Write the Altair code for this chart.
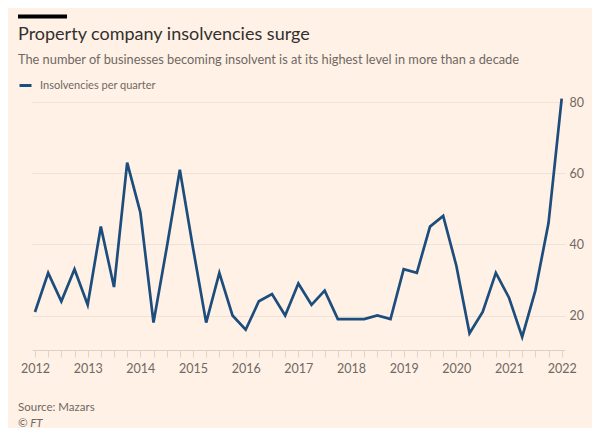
import altair as alt
import pandas as pd

# Quarterly data, 2012 Q1 .. 2022 Q1
years = [y for y in range(2012, 2023)]
quarters = [y + q / 4 for y in range(2012, 2022) for q in range(4)] + [2022.0]
insolvencies = [21, 32, 24, 33, 23, 45, 28, 63, 49, 18,
                39, 61, 39, 18, 32, 20, 16, 24, 26, 20,
                29, 23, 27, 19, 19, 19, 20, 19, 33, 32,
                45, 48, 34, 15, 21, 32, 25, 14, 27, 46, 81]
series_name = "Insolvencies per quarter"
y_ticks = [20, 40, 60, 80]

title_text = "Property company insolvencies surge"
subtitle_text = "The number of businesses becoming insolvent is at its highest level in more than a decade"
source_text = "Source: Mazars"
ft_text = "© FT"

df = pd.DataFrame({"t": quarters, "v": insolvencies, "s": [series_name] * len(quarters)})

BG = "#FFF1E5"
LINE = "#1d4d7c"
FONT = "Lato"
TXT = "#6f6864"
W, H = 533, 255

line = alt.Chart(df).mark_line(strokeWidth=2.7, strokeJoin="miter").encode(
    x=alt.X("t:Q",
            scale=alt.Scale(domain=[2011.943, 2022.063], nice=False, zero=False),
            axis=alt.Axis(values=quarters, title=None, grid=False,
                          labelExpr="datum.value % 1 === 0 ? format(datum.value, 'd') : ''",
                          tickSize=7, tickColor="#e0d4c9", tickWidth=1,
                          domainColor="#ddd1c6", labelColor=TXT,
                          labelFontSize=12.5, labelFont=FONT, labelPadding=5,
                          labelFlush=False)),
    y=alt.Y("v:Q",
            scale=alt.Scale(domain=[10.3, 82], nice=False, zero=False),
            axis=alt.Axis(values=y_ticks, orient="right", title=None, domain=False,
                          ticks=False, grid=True, gridColor="#efe3d8",
                          labelColor=TXT, labelFontSize=12.5, labelFont=FONT,
                          labelPadding=4, labelAlign="left")),
    color=alt.Color("s:N", scale=alt.Scale(range=[LINE]),
                    legend=alt.Legend(orient="none", legendX=-14, legendY=-17,
                                      title=None, symbolType="stroke",
                                      symbolSize=144, symbolStrokeWidth=3,
                                      labelFontSize=11, labelFont=FONT,
                                      labelColor=TXT, labelOffset=7,
                                      padding=0)),
)

one = pd.DataFrame({"k": [0]})

bar = alt.Chart(one).mark_rule(color="#000000", strokeWidth=4).encode(
    x=alt.value(-14), x2=alt.value(35), y=alt.value(-78.5))

title = alt.Chart(one).mark_text(align="left", baseline="middle", fontSize=18,
                                 font=FONT, color="#33302e", text=title_text).encode(
    x=alt.value(-14), y=alt.value(-60))

subtitle = alt.Chart(one).mark_text(align="left", baseline="middle", fontSize=12.8,
                                    font=FONT, color=TXT, text=subtitle_text).encode(
    x=alt.value(-14), y=alt.value(-35))

source = alt.Chart(one).mark_text(align="left", baseline="middle", fontSize=11.5,
                                  font=FONT, color=TXT, text=source_text).encode(
    x=alt.value(-14), y=alt.value(313))

ft = alt.Chart(one).mark_text(align="left", baseline="middle", fontSize=11.5,
                              font=FONT, fontStyle="italic", color=TXT,
                              text=ft_text).encode(
    x=alt.value(-14), y=alt.value(329))

chart = alt.layer(line, bar, title, subtitle, source, ft).properties(
    width=W, height=H,
    background=BG,
    padding={"left": 24, "top": 87, "right": 27, "bottom": 78},
    autosize=alt.AutoSizeParams(type="none"),
).configure_view(stroke=None)

chart.save("out.html", embed_options={"renderer": "svg", "actions": False})
